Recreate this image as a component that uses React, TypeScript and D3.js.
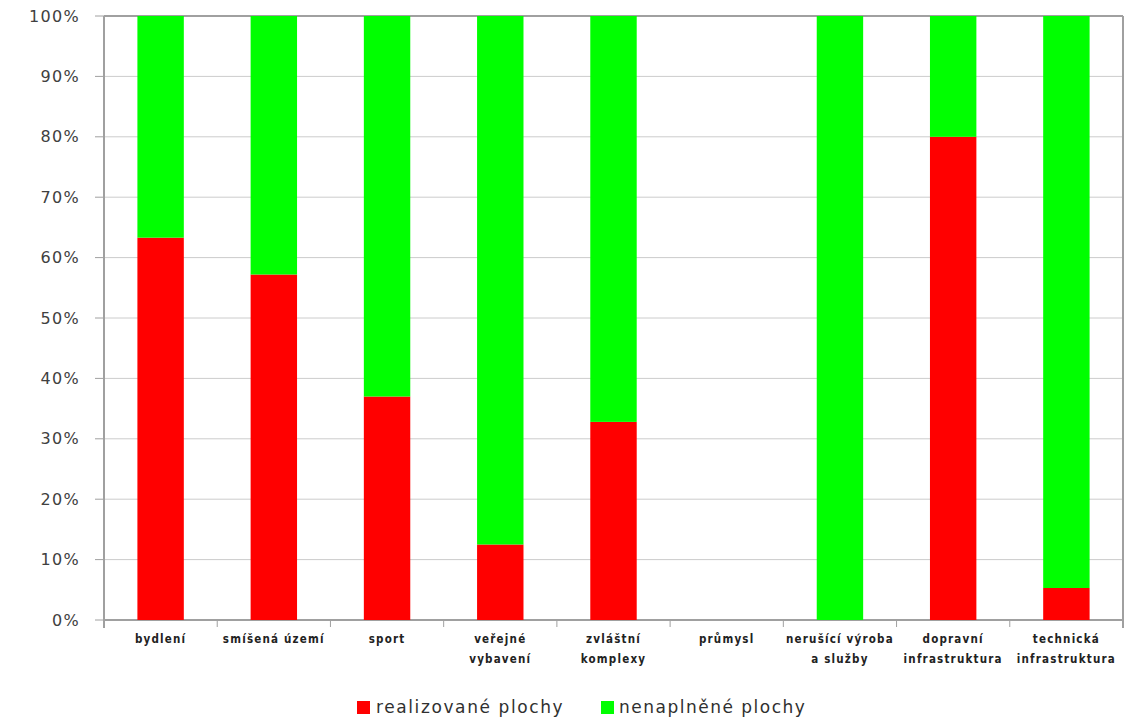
import React from "react";
import * as d3 from "d3";

const categories: string[][] = [
  ["bydlení"],
  ["smíšená území"],
  ["sport"],
  ["veřejné", "vybavení"],
  ["zvláštní", "komplexy"],
  ["průmysl"],
  ["nerušící výroba", "a služby"],
  ["dopravní", "infrastruktura"],
  ["technická", "infrastruktura"],
];
const realized: number[] = [63.3, 57.2, 37, 12.5, 32.8, 0, 0, 80, 5.3];
const unfilled: number[] = [36.7, 42.8, 63, 87.5, 67.2, 0, 100, 20, 94.7];
const yTicks: number[] = [0, 10, 20, 30, 40, 50, 60, 70, 80, 90, 100];
const seriesNames = ["realizované plochy", "nenaplněné plochy"];
const colors = ["#ff0000", "#00ff00"];

export default function App() {
  const W = 1128, H = 724;
  const left = 104, right = 1123, top = 16, bottom = 620;
  const x = d3.scaleBand<number>().domain(d3.range(categories.length)).range([left, right]).paddingInner(0.59).paddingOuter(0.295);
  const xb = d3.scaleBand<number>().domain(d3.range(categories.length)).range([left, right]);
  const y = d3.scaleLinear().domain([0, 100]).range([bottom, top]);
  return (
    <svg width={W} height={H} style={{ position: "absolute", left: 0, top: 0, background: "#fff" }}>
      {yTicks.map((t) => (
        <g key={t}>
          <line x1={left} x2={right} y1={y(t)} y2={y(t)} stroke={t === 0 || t === 100 ? "#a0a0a0" : "#cccccc"} strokeWidth={t === 0 || t === 100 ? 2 : 1} />
          <line x1={95} x2={left} y1={y(t)} y2={y(t)} stroke="#a0a0a0" strokeWidth={1} />
          <text x={80} y={y(t)} dy="0.35em" textAnchor="end" fontFamily="DejaVu Sans" fontSize={16} fill="#404040" letterSpacing={1.3}>
            {t}%
          </text>
        </g>
      ))}
      {categories.map((c, i) => {
        const bx = x(i)!;
        const bw = x.bandwidth();
        const r = realized[i], u = unfilled[i];
        return (
          <g key={i}>
            {r > 0 && <rect x={bx} y={y(r)} width={bw} height={y(0) - y(r)} fill={colors[0]} />}
            {u > 0 && <rect x={bx} y={y(r + u)} width={bw} height={y(r) - y(r + u)} fill={colors[1]} />}
          </g>
        );
      })}
      <line x1={left} x2={left} y1={top} y2={bottom + 8} stroke="#a0a0a0" strokeWidth={2} />
      <line x1={right} x2={right} y1={top} y2={bottom + 8} stroke="#a0a0a0" strokeWidth={2} />
      {categories.map((c, i) => (
        <line key={"t" + i} x1={xb(i)!} x2={xb(i)!} y1={bottom} y2={bottom + 7} stroke="#a0a0a0" strokeWidth={1} />
      ))}
      {categories.map((c, i) => (
        <text key={"l" + i} x={xb(i)! + xb.bandwidth() / 2} y={643} textAnchor="middle" fontFamily="DejaVu Sans Condensed" fontWeight="bold" fontSize={11.5} fill="#222" letterSpacing={1.2}>
          {c.map((line, j) => (
            <tspan key={j} x={xb(i)! + xb.bandwidth() / 2} dy={j === 0 ? 0 : 20}>{line}</tspan>
          ))}
        </text>
      ))}
      <rect x={357} y={701} width={13} height={13} fill={colors[0]} />
      <text x={376} y={713} fontFamily="DejaVu Sans" fontSize={17} fill="#303030" letterSpacing={1.6}>{seriesNames[0]}</text>
      <rect x={601} y={701} width={13} height={13} fill={colors[1]} />
      <text x={619} y={713} fontFamily="DejaVu Sans" fontSize={17} fill="#303030" letterSpacing={1.5}>{seriesNames[1]}</text>
    </svg>
  );
}
